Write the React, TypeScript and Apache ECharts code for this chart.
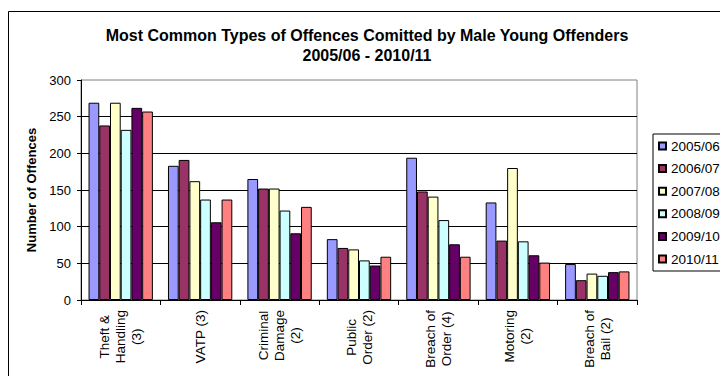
import { useEffect, useRef } from 'react';
import * as echarts from 'echarts';

// Offence categories (line breaks follow the axis label wrapping)
const categories = [
  'Theft &\nHandling\n(3)',
  'VATP (3)',
  'Criminal\nDamage\n(2)',
  'Public\nOrder (2)',
  'Breach of\nOrder (4)',
  'Motoring\n(2)',
  'Breach of\nBail (2)',
];

const years = ['2005/06', '2006/07', '2007/08', '2008/09', '2009/10', '2010/11'];
const yearColors = ['#9999FF', '#993366', '#FFFFCC', '#CCFFFF', '#660066', '#FF8080'];

// Number of offences per category, one array per year
const y2005 = [269, 183, 165, 83, 194, 133, 49];
const y2006 = [238, 191, 152, 71, 148, 81, 27];
const y2007 = [269, 162, 152, 69, 141, 180, 36];
const y2008 = [232, 137, 122, 54, 109, 80, 33];
const y2009 = [262, 106, 91, 47, 76, 61, 38];
const y2010 = [257, 137, 127, 59, 59, 51, 39];

const yMin = 0;
const yMax = 300;
const yStep = 50;

const titleLines = ['Most Common Types of Offences Comitted by Male Young Offenders', '2005/06 - 2010/11'];
const yAxisTitle = 'Number of Offences';

const FONT = '"Liberation Sans", Arial, Helvetica, sans-serif';

export default function App() {
  const ref = useRef<HTMLDivElement>(null);

  useEffect(() => {
    document.body.style.margin = '0';
    if (!ref.current) return;
    const chart = echarts.init(ref.current, undefined, { renderer: 'svg' });
    const values = [y2005, y2006, y2007, y2008, y2009, y2010];

    chart.setOption({
      animation: false,
      backgroundColor: '#fff',
      textStyle: { fontFamily: FONT },
      title: {
        text: titleLines.join('\n'),
        left: 367,
        top: 25,
        padding: 0,
        textAlign: 'center',
        textStyle: {
          fontFamily: FONT,
          fontSize: 16,
          fontWeight: 'bold',
          color: '#000',
          lineHeight: 20,
        },
      },
      graphic: [
        {
          type: 'rect',
          silent: true,
          z: -10,
          shape: { x: 8.5, y: 11.5, width: 900, height: 600 },
          style: { fill: 'none', stroke: '#000', lineWidth: 1 },
        },
      ],
      legend: {
        orient: 'vertical',
        left: 653,
        top: 134,
        padding: [5, 20, 5, 5],
        itemWidth: 7,
        itemHeight: 7,
        itemGap: 8.6,
        icon: 'rect',
        borderColor: '#000',
        borderWidth: 1,
        backgroundColor: '#fff',
        data: years,
        textStyle: { fontFamily: FONT, fontSize: 13.5, color: '#000', lineHeight: 14 },
      },
      grid: {
        left: 81,
        right: 83,
        top: 80,
        bottom: 76,
        show: true,
        borderColor: '#808080',
        borderWidth: 1,
        outerBoundsMode: 'none',
      },
      xAxis: {
        type: 'category',
        data: categories,
        axisLine: { show: true, lineStyle: { color: '#000', width: 1 } },
        axisTick: { show: true, length: 5, lineStyle: { color: '#000' } },
        axisLabel: {
          interval: 0,
          rotate: 90,
          margin: 10,
          color: '#000',
          fontFamily: FONT,
          fontSize: 13.5,
          formatter: (v: string) => v.split('\n').map((s) => `{c|${s}}`).join('\n'),
          rich: {
            c: { align: 'center', fontFamily: FONT, fontSize: 13.5, lineHeight: 16, color: '#000' },
          },
        },
        splitLine: { show: false },
      },
      yAxis: {
        type: 'value',
        min: yMin,
        max: yMax,
        interval: yStep,
        name: yAxisTitle,
        nameLocation: 'middle',
        nameGap: 43,
        nameTextStyle: { fontFamily: FONT, fontSize: 13, fontWeight: 'bold', color: '#000' },
        axisLine: { show: true, lineStyle: { color: '#000', width: 1 } },
        axisTick: { show: true, length: 4, lineStyle: { color: '#000' } },
        axisLabel: { margin: 10, color: '#000', fontFamily: FONT, fontSize: 13 },
        splitLine: { show: true, showMaxLine: false, lineStyle: { color: '#000', width: 1 } },
      },
      series: years.map((yr, i) => ({
        name: yr,
        type: 'bar',
        data: values[i],
        barGap: '0%',
        barCategoryGap: '19%',
        itemStyle: { color: yearColors[i], borderColor: '#000', borderWidth: 1 },
      })),
    });

    return () => chart.dispose();
  }, []);

  return <div ref={ref} style={{ width: 720, height: 376 }} />;
}
